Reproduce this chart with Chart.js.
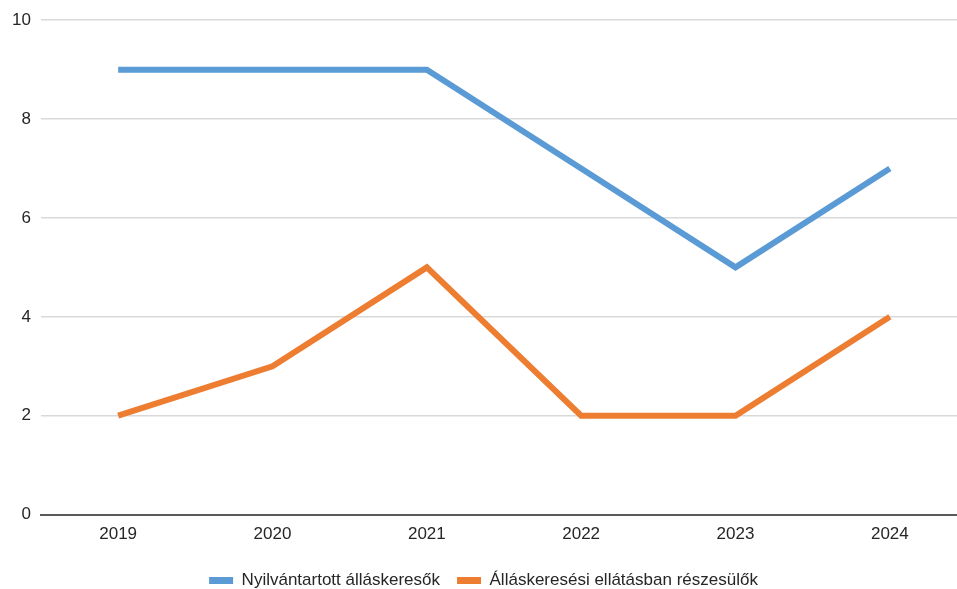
<!DOCTYPE html>
<html>
<head>
<meta charset="utf-8">
<script src="https://cdn.jsdelivr.net/npm/chart.js@4"></script>
<style>
  html, body { margin: 0; padding: 0; overflow: hidden; background: #fff; }
</style>
</head>
<body>
<canvas id="chart" width="968" height="589"></canvas>
<script>
// chart data
const years = ['2019', '2020', '2021', '2022', '2023', '2024'];
const registered = [9, 9, 9, 7, 5, 7];
const benefits = [2, 3, 5, 2, 2, 4];
const seriesNames = ['Nyilvántartott álláskeresők', 'Álláskeresési ellátásban részesülők'];
const yTicks = [0, 2, 4, 6, 8, 10];

const font = { family: 'Liberation Sans', size: 17 };

const ctx = document.getElementById('chart').getContext('2d');
new Chart(ctx, {
    type: 'line',
    data: {
        labels: years,
        datasets: [
            {
                label: seriesNames[0],
                data: registered,
                borderColor: '#5B9BD5',
                backgroundColor: '#5B9BD5',
                borderWidth: 6,
                pointRadius: 0,
                tension: 0
            },
            {
                label: seriesNames[1],
                data: benefits,
                borderColor: '#ED7D31',
                backgroundColor: '#ED7D31',
                borderWidth: 6,
                pointRadius: 0,
                tension: 0
            }
        ]
    },
    options: {
        responsive: false,
        animation: false,
        layout: { padding: { top: 10, right: 1, left: 0, bottom: -10 } },
        plugins: {
            tooltip: { enabled: false },
            legend: {
                position: 'bottom',
                labels: {
                    font: font,
                    color: '#262626',
                    boxWidth: 24,
                    boxHeight: 7,
                    padding: 17,
                    generateLabels: (chart) =>
                        Chart.defaults.plugins.legend.labels.generateLabels(chart).map(l => ({
                            ...l, lineWidth: 0, fillStyle: l.strokeStyle
                        }))
                }
            }
        },
        scales: {
            x: {
                offset: true,
                grid: { display: false, drawTicks: false },
                border: { display: true, color: '#595959', width: 2 },
                ticks: { font: font, color: '#262626', padding: 10, maxRotation: 0 }
            },
            y: {
                min: 0,
                max: 10,
                afterFit: (scale) => { scale.width = 41; },
                afterBuildTicks: (scale) => { scale.ticks = yTicks.map(v => ({ value: v })); },
                grid: { color: '#d9d9d9', lineWidth: 1.5, drawTicks: false },
                border: { display: false },
                ticks: { font: font, color: '#262626', padding: 10 }
            }
        }
    }
});
</script>
</body>
</html>
